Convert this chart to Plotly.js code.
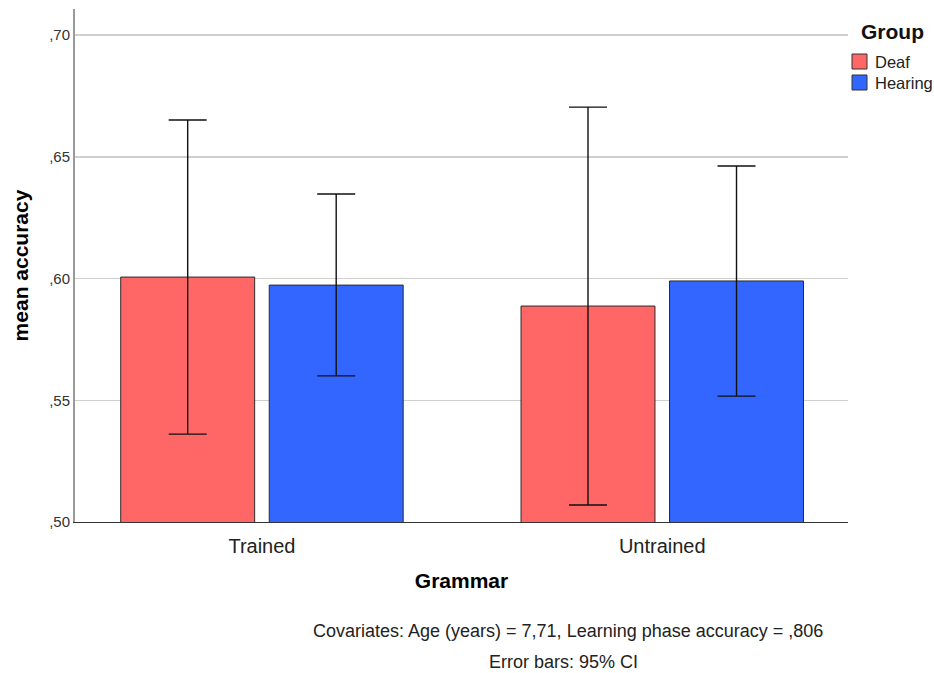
<!DOCTYPE html>
<html><head><meta charset="utf-8">
<script src="https://cdn.plot.ly/plotly-3.0.1.min.js"></script>
<style>body{margin:0;background:#fff}</style></head>
<body><div id="chart" style="width:934px;height:673px"></div>
<script>
const categories = ["Trained", "Untrained"];
const groups = ["Deaf", "Hearing"];
const deafMean = [0.6006, 0.5887];
const deafUpper = [0.6651, 0.6704];
const deafLower = [0.5361, 0.5070];
const hearingMean = [0.5973, 0.5990];
const hearingUpper = [0.6347, 0.6462];
const hearingLower = [0.5600, 0.5517];
const yTickVals = [0.50, 0.55, 0.60, 0.65, 0.70];
const yTickText = [",50", ",55", ",60", ",65", ",70"];
const colors = ["#FF6666", "#3366FF"];

function trace(name, mean, up, lo, color) {
  return {
    type: "bar", name: name, x: categories, y: mean, base: 0,
    marker: {color: color, line: {color: "#2b2b2b", width: 1}},
    error_y: {type: "data", symmetric: false,
      array: mean.map((m, i) => up[i] - m),
      arrayminus: mean.map((m, i) => m - lo[i]),
      color: "#111", thickness: 1.4, width: 19}
  };
}
const data = [
  trace(groups[0], deafMean, deafUpper, deafLower, colors[0]),
  trace(groups[1], hearingMean, hearingUpper, hearingLower, colors[1])
];

// page pixel -> paper fraction helpers (plot area: x 75..848, y 9..522)
const L = 75, R = 86, T = 9, B = 151, W = 934, H = 673;
const pw = W - L - R, ph = H - T - B;
const px = v => (v - L) / pw;
const py = v => 1 - (v - T) / ph;

// legend (drawn as swatches + labels)
const legendShapes = groups.map((g, i) => ({
  type: "rect", xref: "paper", yref: "paper",
  x0: px(852), x1: px(867), y0: py(54 + 21 * i), y1: py(69 + 21 * i),
  fillcolor: colors[i], line: {color: "#333", width: 1}
}));
const legendLabels = groups.map((g, i) => ({
  text: g, xref: "paper", yref: "paper", x: px(873), y: py(62 + 21 * i),
  xanchor: "left", yanchor: "middle", showarrow: false,
  font: {size: 16.5, color: "#222"}
}));

const layout = {
  width: W, height: H,
  margin: {l: L, r: R, t: T, b: B},
  paper_bgcolor: "#fff", plot_bgcolor: "#fff",
  font: {family: "Liberation Sans, Arial, sans-serif", color: "#222"},
  barmode: "group", bargap: 0.258, bargroupgap: 0.098,
  showlegend: false,
  xaxis: {type: "category", range: [-0.467, 1.464], showgrid: false,
    showline: true, linecolor: "#333", linewidth: 1, ticks: "",
    ticklabelstandoff: 6,
    tickfont: {size: 20, color: "#222"},
    title: {text: "<b>Grammar</b>", font: {size: 21, color: "#000"}, standoff: 17}},
  yaxis: {range: [0.5, 0.7107], tickvals: yTickVals, ticktext: yTickText,
    showgrid: true, gridcolor: "#cfcfcf", gridwidth: 1.5,
    showline: true, linecolor: "#9a9a9a", linewidth: 2, ticks: "", zeroline: false,
    tickfont: {size: 15, color: "#333"},
    title: {text: "<b>mean accuracy</b>", font: {size: 21, color: "#000"}, standoff: 15}},
  shapes: legendShapes,
  annotations: [
    {text: "<b>Group</b>", xref: "paper", yref: "paper",
     x: px(859), y: py(31), xanchor: "left", yanchor: "middle",
     showarrow: false, font: {size: 21, color: "#111"}},
    ...legendLabels,
    {text: "Covariates: Age (years) = 7,71, Learning phase accuracy = ,806",
     xref: "paper", yref: "paper", x: px(567.5), y: py(631),
     xanchor: "center", yanchor: "middle",
     showarrow: false, font: {size: 18, color: "#222"}},
    {text: "Error bars: 95% CI",
     xref: "paper", yref: "paper", x: px(563), y: py(662),
     xanchor: "center", yanchor: "middle",
     showarrow: false, font: {size: 18, color: "#222"}}
  ]
};
Plotly.newPlot("chart", data, layout, {displayModeBar: false, staticPlot: true});
</script></body></html>
